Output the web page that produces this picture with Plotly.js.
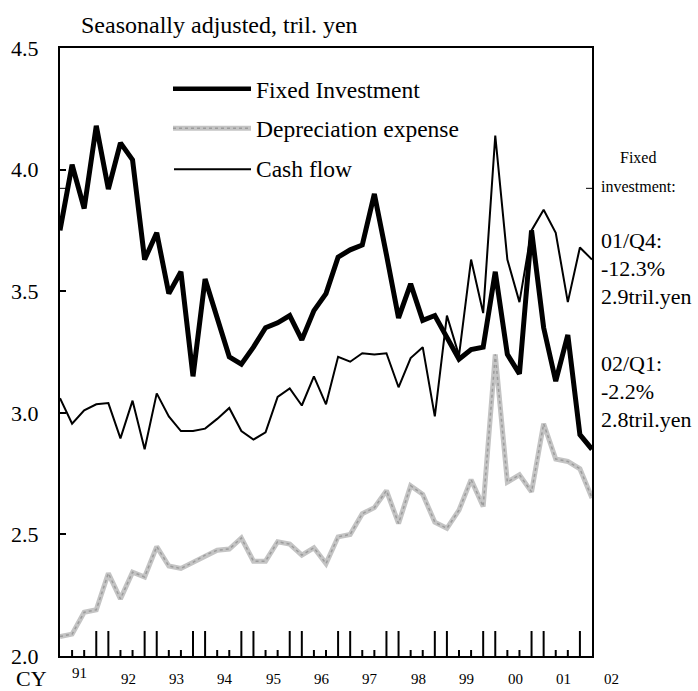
<!DOCTYPE html>
<html>
<head>
<meta charset="utf-8">
<script src="https://cdn.plot.ly/plotly-3.0.1.min.js"></script>
<style>html,body{margin:0;padding:0;background:#fff;}</style>
</head>
<body>
<div id="chart" style="width:698px;height:691px;"></div>
<script>
// Quarters CY1991 Q1 .. CY2002 Q1
const years = ["91","92","93","94","95","96","97","98","99","00","01","02"];
const quarters = [];
for (const y of years) for (const q of ["Q1","Q2","Q3","Q4"]) quarters.push(y + "/" + q);
quarters.length = 45;

const fixedInvestment = [3.75, 4.02, 3.84, 4.18, 3.92, 4.11, 4.04, 3.63, 3.74, 3.49, 3.58, 3.15,
  3.55, 3.39, 3.23, 3.20, 3.27, 3.35, 3.37, 3.40, 3.30, 3.42, 3.49, 3.64,
  3.67, 3.69, 3.90, 3.65, 3.39, 3.53, 3.38, 3.40, 3.31, 3.22, 3.26, 3.27,
  3.58, 3.24, 3.16, 3.75, 3.35, 3.13, 3.32, 2.91, 2.85];

const depreciation = [2.08, 2.09, 2.18, 2.19, 2.34, 2.235, 2.345, 2.325, 2.45, 2.37, 2.36, 2.385,
  2.415, 2.435, 2.44, 2.485, 2.39, 2.39, 2.47, 2.46, 2.415, 2.445, 2.38, 2.49,
  2.50, 2.585, 2.61, 2.68, 2.545, 2.70, 2.665, 2.55, 2.525, 2.60, 2.725, 2.615,
  3.24, 2.715, 2.745, 2.675, 2.955, 2.81, 2.80, 2.77, 2.65];

const cashFlow = [3.06, 2.955, 3.01, 3.035, 3.04, 2.895, 3.05, 2.85, 3.08, 2.985, 2.925, 2.925,
  2.935, 2.975, 3.02, 2.925, 2.89, 2.92, 3.065, 3.10, 3.03, 3.15, 3.035, 3.23,
  3.21, 3.245, 3.24, 3.245, 3.105, 3.225, 3.27, 2.985, 3.40, 3.235, 3.63, 3.41,
  4.14, 3.63, 3.455, 3.75, 3.835, 3.74, 3.455, 3.68, 3.63];

const yTicks = [2.0, 2.5, 3.0, 3.5, 4.0, 4.5];
const seriesNames = ["Fixed Investment", "Depreciation expense", "Cash flow"];
const sideNotes = ["01/Q4:", "-12.3%", "2.9tril.yen", "02/Q1:", "-2.2%", "2.8tril.yen"];

const FONT = '"Liberation Serif", "Times New Roman", serif';
const W = 698, H = 691;
const L = 60, R = 592, T = 47.6, B = 656;
const px = x => (x - L) / (R - L);
const py = y => (B - y) / (B - T);
const nQ = quarters.length - 1;

const traces = [
  {x: quarters, y: depreciation, type: "scatter", mode: "lines", name: seriesNames[1],
   line: {color: "#c4c4c4", width: 5}, showlegend: false},
  {x: quarters, y: depreciation, type: "scatter", mode: "lines", hoverinfo: "skip",
   line: {color: "#9c9c9c", width: 1.5, dash: "dot"}, showlegend: false},
  {x: quarters, y: cashFlow, type: "scatter", mode: "lines", name: seriesNames[2],
   line: {color: "#000", width: 2}, showlegend: false},
  {x: quarters, y: fixedInvestment, type: "scatter", mode: "lines", name: seriesNames[0],
   line: {color: "#000", width: 5}, showlegend: false}
];

const shapes = [];
// bottom tick marks between quarters: pairs short / long
for (let k = 1; k < nQ; k++) {
  const long = (k % 4 === 3 || k % 4 === 0);
  shapes.push({type: "line", xref: "x", yref: "paper", x0: k, x1: k, y0: 0,
    y1: (long ? 25 : 6) / (B - T), line: {color: "#000", width: 2}});
}
// thin ticks at ~3.92 on both sides
shapes.push({type: "line", xref: "paper", yref: "y", x0: 0, x1: 6/(R-L), y0: 3.923, y1: 3.923, line: {color: "#000", width: 1}});
shapes.push({type: "line", xref: "paper", yref: "y", x0: 1 - 6/(R-L), x1: 1, y0: 3.923, y1: 3.923, line: {color: "#000", width: 1}});
// legend samples
shapes.push({type: "line", xref: "paper", yref: "paper", x0: px(173), x1: px(251), y0: py(88.5), y1: py(88.5), line: {color: "#000", width: 4.5}});
shapes.push({type: "line", xref: "paper", yref: "paper", x0: px(173), x1: px(251), y0: py(128), y1: py(128), line: {color: "#c4c4c4", width: 5}});
shapes.push({type: "line", xref: "paper", yref: "paper", x0: px(173), x1: px(251), y0: py(128), y1: py(128), line: {color: "#9c9c9c", width: 1.5, dash: "dot"}});
shapes.push({type: "line", xref: "paper", yref: "paper", x0: px(174), x1: px(251), y0: py(169), y1: py(169), line: {color: "#000", width: 2}});

const annotations = [];
const ann = (text, x, y, size, xanchor, extra) => Object.assign({
  text: text, xref: "paper", yref: "paper", x: px(x), y: py(y), showarrow: false,
  xanchor: xanchor || "left", yanchor: "middle", font: {family: FONT, size: size, color: "#000"}
}, extra || {});

annotations.push(ann("Seasonally adjusted, tril. yen", 79, 25, 24));
annotations.push(ann(seriesNames[0], 254, 90, 23.5));
annotations.push(ann(seriesNames[1], 254, 129, 23.5));
annotations.push(ann(seriesNames[2], 254, 169, 23.5));
annotations.push(ann("Fixed", 638, 157, 16, "center"));
annotations.push(ann("investment:", 638, 186, 16, "center"));
const noteY = [240, 268, 296, 363, 391, 419];
sideNotes.forEach((t, i) => annotations.push(ann(t, 599, noteY[i], 22)));
annotations.push(ann("CY", 31, 679, 22, "center"));
// year labels, centred on each year's four quarters
years.forEach((y, j) => {
  const k = 4 * j + 1.65;
  annotations.push(ann(y, L + k * (R - L) / nQ, j === 0 ? 673 : 679, 15, "center"));
});

const layout = {
  width: W, height: H,
  margin: {l: L, r: W - R, t: T, b: H - B, pad: 0},
  paper_bgcolor: "#fff", plot_bgcolor: "#fff",
  showlegend: false,
  font: {family: FONT, color: "#000"},
  xaxis: {type: "category", range: [0, nQ], showgrid: false, zeroline: false,
    showline: true, mirror: true, linecolor: "#000", linewidth: 2,
    ticks: "", showticklabels: false, fixedrange: true},
  yaxis: {range: [2.0, 4.5], tickvals: yTicks, ticktext: yTicks.map(v => v.toFixed(1)),
    showgrid: false, zeroline: false, showline: true, mirror: true, linecolor: "#000", linewidth: 2,
    ticks: "inside", ticklen: 6, tickwidth: 2, tickcolor: "#000",
    tickfont: {family: FONT, size: 22, color: "#000"}, ticklabelstandoff: 15, fixedrange: true},
  shapes: shapes,
  annotations: annotations
};

Plotly.newPlot("chart", traces, layout, {displayModeBar: false, staticPlot: true});
</script>
</body>
</html>
